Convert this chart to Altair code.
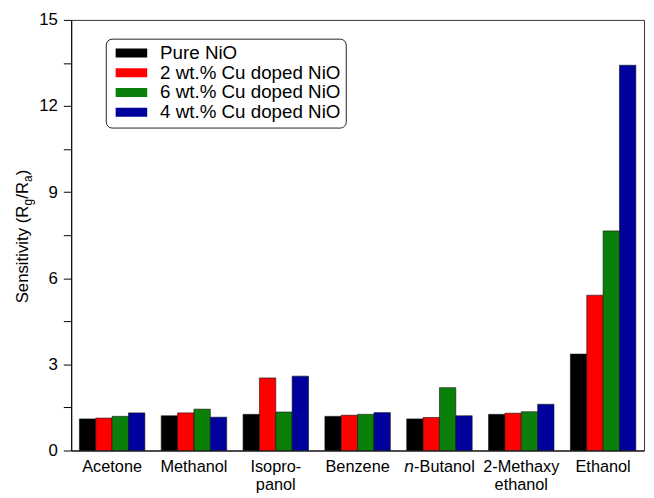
import altair as alt
import pandas as pd

categories = ["Acetone", "Methanol", "Isopro-\npanol", "Benzene", "n-Butanol", "2-Methaxy\nethanol", "Ethanol"]
series = ["Pure NiO", "2 wt.% Cu doped NiO", "6 wt.% Cu doped NiO", "4 wt.% Cu doped NiO"]
pure_nio = [1.10, 1.21, 1.26, 1.19, 1.10, 1.26, 3.36]
cu2 = [1.13, 1.31, 2.53, 1.23, 1.15, 1.30, 5.41]
cu6 = [1.19, 1.44, 1.34, 1.26, 2.19, 1.35, 7.65]
cu4 = [1.31, 1.16, 2.59, 1.32, 1.21, 1.61, 13.42]
colors = ["#000000", "#ff0000", "#0a800a", "#00009c"]
y_ticks = [0, 1.5, 3, 4.5, 6, 7.5, 9, 10.5, 12, 13.5, 15]

rows = []
for s, vals in zip(series, [pure_nio, cu2, cu6, cu4]):
    for c, v in zip(categories, vals):
        rows.append({"cat": c, "series": s, "val": v})
df = pd.DataFrame(rows)

FONT = "Liberation Sans"

bars = alt.Chart(df).mark_bar(stroke="#111111", strokeWidth=0.6).encode(
    x=alt.X("cat:N", sort=categories,
            scale=alt.Scale(paddingInner=0.2, paddingOuter=0.1),
            axis=alt.Axis(title=None, labelAngle=0, ticks=False, labelPadding=8,
                          labelFontSize=16.5, labelLineHeight=18, labelColor="black",
                          domainColor="black", labelFont=FONT,
                          labelExpr="datum.label == 'n-Butanol' ? '\U0001D62F-Butanol' : split(datum.label, '\\n')")),
    xOffset=alt.XOffset("series:N", sort=series, scale=alt.Scale(paddingInner=0, paddingOuter=0)),
    y=alt.Y("val:Q", scale=alt.Scale(domain=[0, 15], nice=False),
            axis=alt.Axis(title=None, values=y_ticks, grid=False, tickSize=8,
                          labelExpr="datum.value % 3 == 0 ? datum.label : ''",
                          labelFontSize=17, labelFont=FONT, labelColor="black",
                          labelPadding=6, domainColor="black", tickColor="black")),
    color=alt.Color("series:N", sort=series,
                    scale=alt.Scale(domain=series, range=colors),
                    legend=alt.Legend(title=None, orient="none", legendX=35, legendY=19,
                                      direction="vertical", strokeColor="#222222",
                                      cornerRadius=6, padding=5, fillColor="white",
                                      labelFontSize=19, labelFont=FONT, labelColor="black",
                                      symbolType="M-1,-1H6.1V1H-1Z", symbolSize=81,
                                      symbolStrokeWidth=0, labelOffset=31, rowPadding=0,
                                      labelLimit=400)),
)

def piece(text, dx, size, dy=0):
    return alt.Chart(alt.Data(values=[{}])).mark_text(
        text=text, angle=270, align="left", baseline="alphabetic",
        font=FONT, fontSize=size, dx=dx, dy=dy, color="black"
    ).encode(x=alt.value(-44), y=alt.value(287))

title_layers = [
    piece("Sensitivity (R", 0, 17),
    piece("g", 99.2, 12, 4),
    piece("/R", 105.9, 17),
    piece("a", 122.9, 12, 4),
    piece(")", 129.6, 17),
]

chart = alt.layer(bars, *title_layers).properties(
    width=580, height=436,
    padding={"left": 64, "top": 9, "right": 2, "bottom": 42},
    autosize=alt.AutoSizeParams(type="none"),
).configure_view(stroke="#333333", strokeWidth=1)

chart.save("out.html", embed_options={"renderer": "svg", "actions": False})
